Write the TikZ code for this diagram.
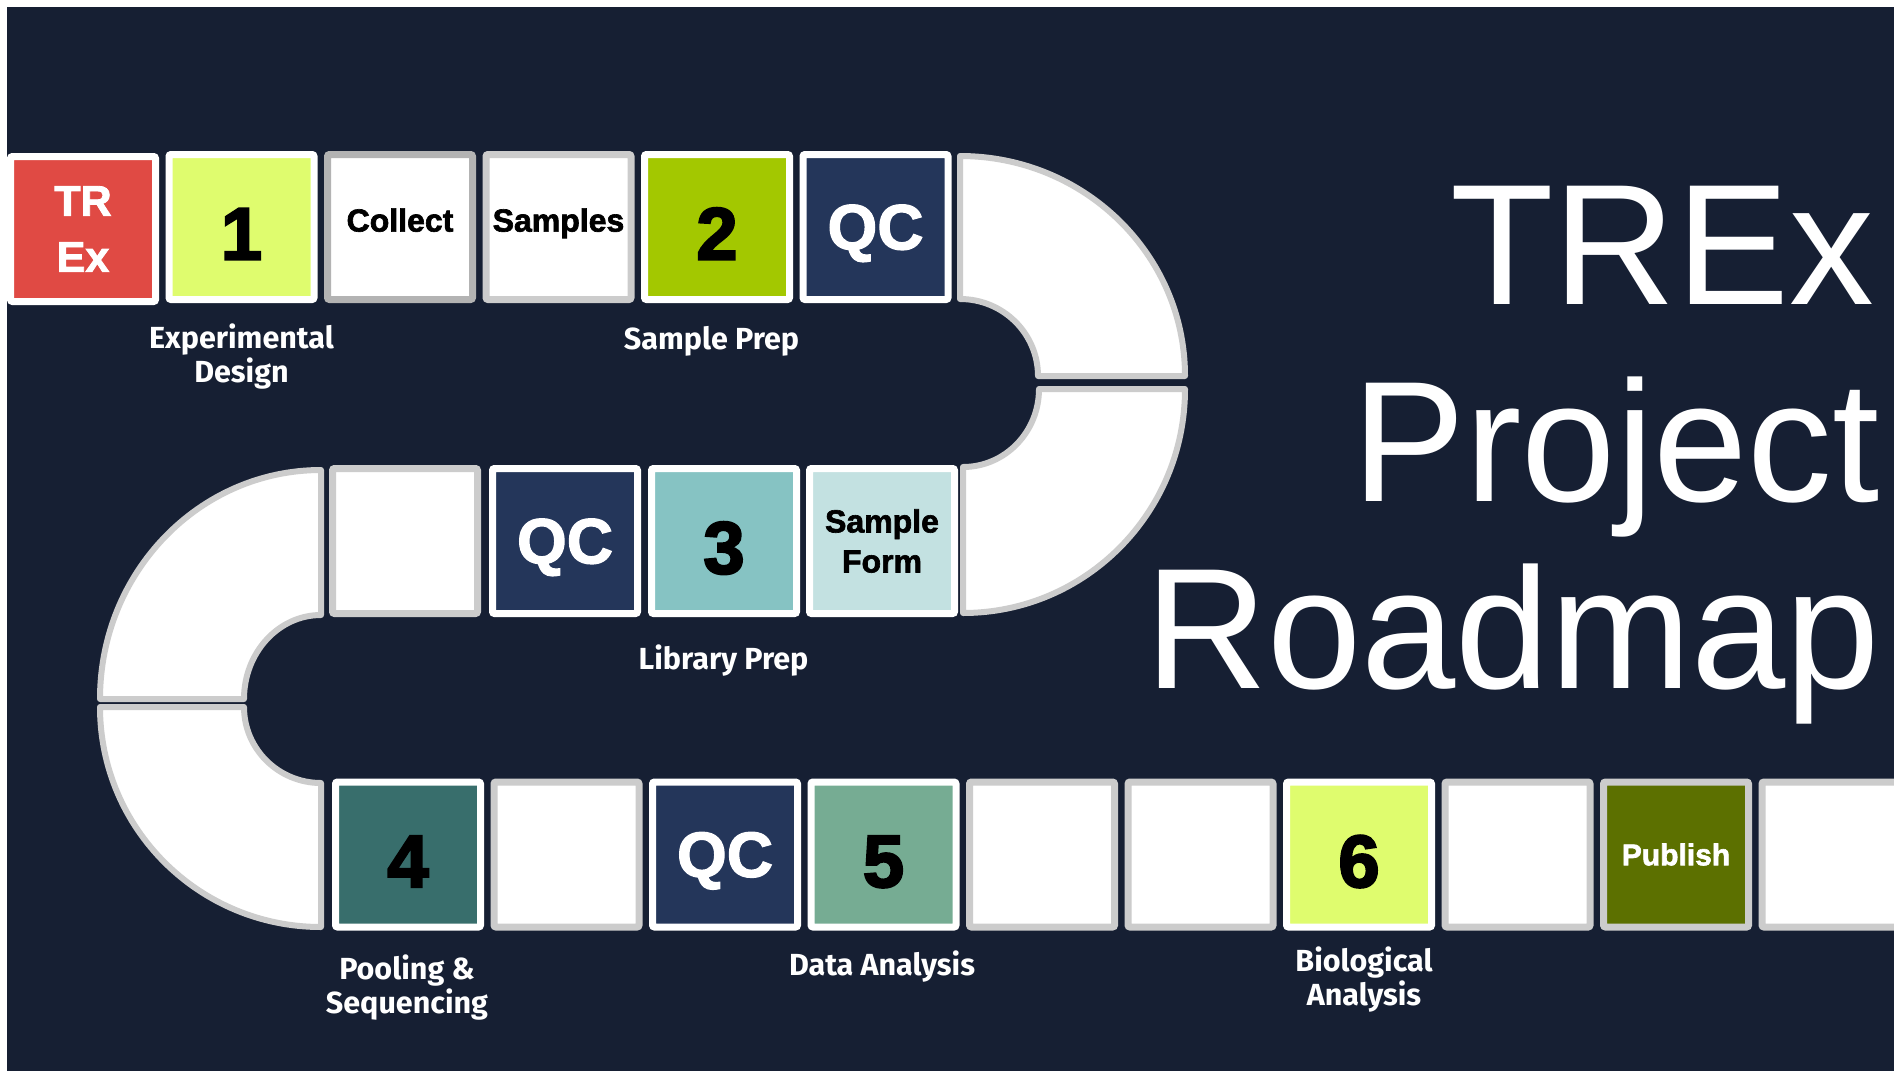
\documentclass[tikz,border=0pt]{standalone}
\usepackage{fontspec}
\setmainfont{Liberation Sans}
\newfontfamily\labelfont{Fira Sans}
\newfontfamily\heavyfont[BoldFeatures={FakeBold=2}]{Liberation Sans}
\newfontfamily\numberfont[BoldFeatures={FakeBold=3}]{Liberation Sans}
\newfontfamily\titlefont[FakeStretch=0.985]{Liberation Sans}
\definecolor{bgnavy}{HTML}{161F33}
\definecolor{trexred}{HTML}{E04A44}
\definecolor{limelight}{HTML}{DFFC6E}
\definecolor{limedark}{HTML}{A3C800}
\definecolor{qcnavy}{HTML}{24365A}
\definecolor{tealmid}{HTML}{86C3C3}
\definecolor{teallight}{HTML}{C3E1E1}
\definecolor{tealdark}{HTML}{386E6C}
\definecolor{sage}{HTML}{76AC93}
\definecolor{olive}{HTML}{5C7000}
\definecolor{edgegrey}{HTML}{CCCCCC}
\definecolor{edgegreydark}{HTML}{B3B3B3}
\begin{document}
\begin{tikzpicture}[x=1pt,y=-1pt,
  tile/.style={draw=white, line width=7pt, minimum width=145pt, minimum height=145pt, inner sep=0pt, align=center, rounded corners=2pt},
  blank/.style={tile, draw=edgegrey, fill=white},
  numtile/.style={tile, text=black, font={\numberfont\bfseries\fontsize{74}{74}\selectfont}, text height=65pt, text depth=0pt},
  qctile/.style={tile, fill=qcnavy, text=white, font={\heavyfont\bfseries\fontsize{64}{64}\selectfont}, text depth=0pt},
  wordtile/.style={tile, text=black, font={\heavyfont\bfseries\fontsize{32}{40}\selectfont}},
  lbl/.style={text=white, align=center, font={\labelfont\bfseries\fontsize{30.5}{34}\selectfont}},
  piece/.style={fill=white, draw=edgegrey, line width=6pt, line join=round},
  titletext/.style={text=white, anchor=base east, inner sep=0pt, font={\titlefont\fontsize{172}{172}\selectfont}}
]
\useasboundingbox (0,0) rectangle (1894,1071);
\clip (0,0) rectangle (1894,1071);
\fill[white] (0,0) rectangle (1894,1071);
\fill[bgnavy] (7,7) rectangle (1894,1071);

% curved track pieces
\draw[piece] (960,156) arc[start angle=-90, end angle=0, x radius=225, y radius=220]
  -- (1038,376) arc[start angle=0, end angle=-90, x radius=78, y radius=77] -- cycle;
\draw[piece] (1185,389) arc[start angle=0, end angle=90, x radius=222, y radius=224]
  -- (963,467) arc[start angle=90, end angle=0, x radius=76, y radius=78] -- cycle;
\draw[piece] (321,470) arc[start angle=-90, end angle=-180, x radius=221, y radius=229]
  -- (244,699) arc[start angle=180, end angle=270, x radius=77, y radius=84] -- cycle;
\draw[piece] (100,707) arc[start angle=180, end angle=90, x radius=221, y radius=220]
  -- (321,783) arc[start angle=90, end angle=180, x radius=77, y radius=76] -- cycle;

% top row
\node[tile, fill=trexred, text=white, font={\heavyfont\bfseries\fontsize{43}{56}\selectfont}] (trex) at (83,229) {TR\\Ex};
\node[numtile, fill=limelight] (one) at (241.5,227) {1};
\node[wordtile, draw=edgegreydark, fill=white, text depth=14pt] (collect) at (400,227) {Collect};
\node[wordtile, draw=edgegrey, fill=white, text depth=14pt] (samples) at (558.5,227) {Samples};
\node[numtile, fill=limedark] (two) at (717,227) {2};
\node[qctile] (qca) at (875.5,227) {QC};

% middle row
\node[blank] (blankm) at (405,541) {};
\node[qctile] (qcb) at (565,541) {QC};
\node[numtile, fill=tealmid] (three) at (724,541) {3};
\node[wordtile, fill=teallight] (sform) at (882,541) {Sample\\Form};

% bottom row
\node[numtile, fill=tealdark] (four) at (408,854.5) {4};
\node[blank] (blanka) at (566.5,854.5) {};
\node[qctile] (qcc) at (725,854.5) {QC};
\node[numtile, fill=sage] (five) at (883.5,854.5) {5};
\node[blank] (blankb) at (1042,854.5) {};
\node[blank] (blankc) at (1200.5,854.5) {};
\node[numtile, fill=limelight] (six) at (1359,854.5) {6};
\node[blank] (blankd) at (1517.5,854.5) {};
\node[tile, draw=edgegrey, fill=olive, text=white, font={\heavyfont\bfseries\fontsize{30}{36}\selectfont}] (publish) at (1676,854.5) {Publish};
\node[blank] (blanke) at (1834.5,854.5) {};

% stage labels
\node[lbl] (lexp) at (241.5,357) {Experimental\\Design};
\node[lbl] (lsprep) at (711.5,341) {Sample Prep};
\node[lbl] (llprep) at (723.5,661) {Library Prep};
\node[lbl] (lpool) at (407,988) {Pooling \&\\Sequencing};
\node[lbl] (ldata) at (882,967) {Data Analysis};
\node[lbl] (lbio) at (1364,980) {Biological\\Analysis};

% title
\node[titletext] (ttrex) at (1874,304) {TREx};
\node[titletext] (tproj) at (1880,501) {Project};
\node[titletext] (troad) at (1880,688) {Roadmap};
\end{tikzpicture}
\end{document}
